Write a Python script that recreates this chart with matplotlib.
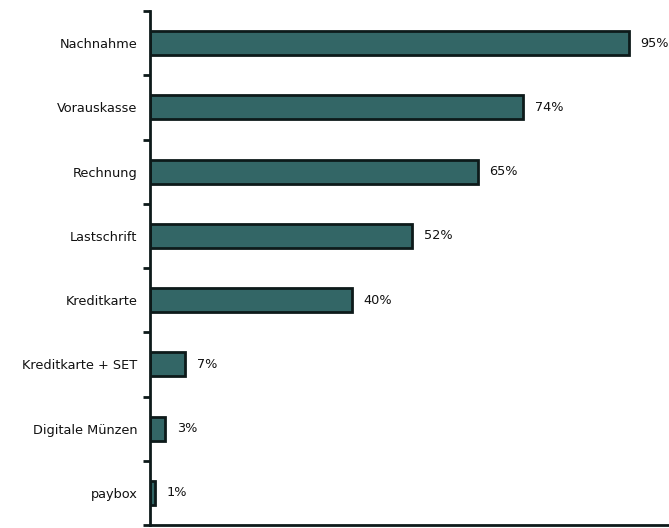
import matplotlib
matplotlib.use("Agg")
import matplotlib.pyplot as plt
import numpy as np

categories = ["Nachnahme", "Vorauskasse", "Rechnung", "Lastschrift", "Kreditkarte",
              "Kreditkarte + SET", "Digitale Münzen", "paybox"]
values = [95, 74, 65, 52, 40, 7, 3, 1]

fig = plt.figure(figsize=(6.69, 5.28), dpi=100)
ax = fig.add_axes([150/669, 3/528, 519/669, 514/528])

y = np.arange(len(categories))
ax.barh(y, values, height=0.37, color="#336666", edgecolor="#0d1a1a", linewidth=2)
ax.set_ylim(len(categories) - 0.5, -0.5)
ax.set_xlim(0, 519/5.04)

for yi, v in zip(y, values):
    ax.text(v + 2.3, yi, f"{v}%", va="center", ha="left", fontsize=9.3, color="#111111")

ax.set_yticks(y)
ax.set_yticklabels(categories, fontsize=9.3, color="#111111")
ax.tick_params(axis="y", which="major", length=0, pad=9)
ax.set_yticks(np.arange(-0.5, len(categories) + 0.5, 1), minor=True)
ax.tick_params(axis="y", which="minor", length=5, width=2, color="#0d1a1a")
ax.set_xticks([])
for s in ["top", "right"]:
    ax.spines[s].set_visible(False)
for s in ["left", "bottom"]:
    ax.spines[s].set_linewidth(2)
    ax.spines[s].set_color("#0d1a1a")

fig.savefig("out.png", dpi=100)
